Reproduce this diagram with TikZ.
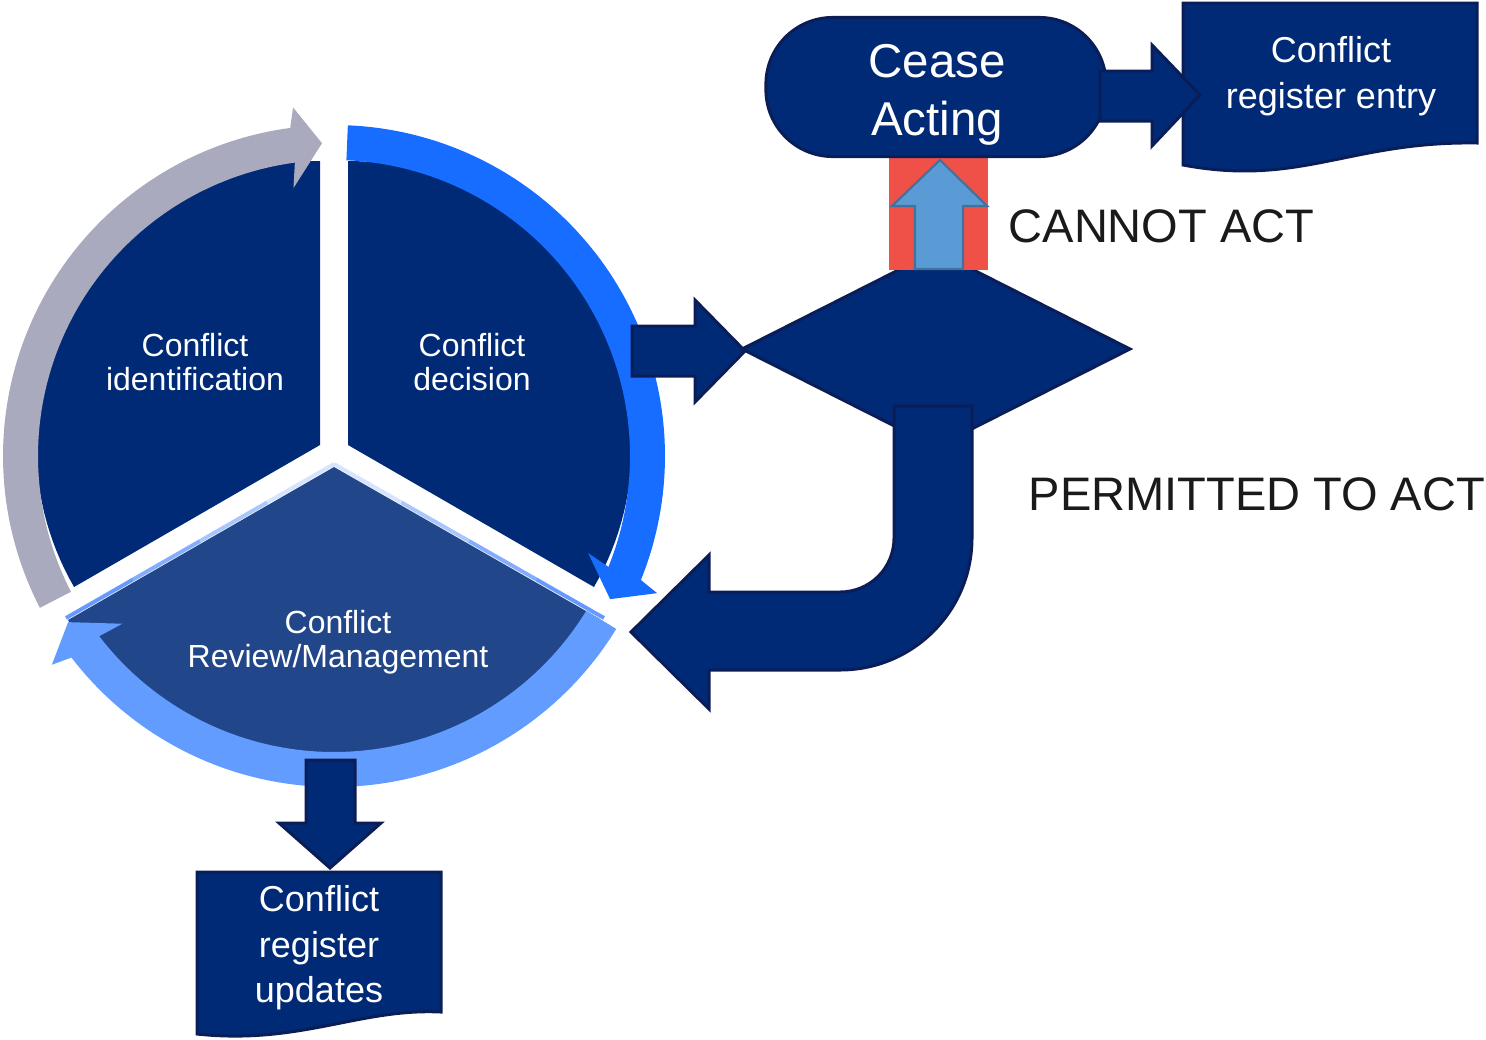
\documentclass[tikz,border=0pt]{standalone}
\usepackage{fontspec}
\setmainfont{Liberation Sans}
\usetikzlibrary{calc}
\definecolor{navy}{HTML}{002A76}
\definecolor{navyline}{HTML}{0B1D57}
\definecolor{review}{HTML}{22468A}
\definecolor{greyarc}{HTML}{A9AABE}
\definecolor{bluearc}{HTML}{176DFF}
\definecolor{lightarc}{HTML}{629CFF}
\definecolor{redbox}{HTML}{EF5047}
\definecolor{uparrow}{HTML}{5B9BD5}
\definecolor{uparrowline}{HTML}{41719C}
\definecolor{ink}{HTML}{1A1A1A}
\definecolor{edgeA}{HTML}{D6E4FF}
\definecolor{edgeB}{HTML}{A9C6FF}
\definecolor{edgeC}{HTML}{84ADFF}
\definecolor{edgeD}{HTML}{6799FF}
\begin{document}
\begin{tikzpicture}[x=0.01cm,y=-0.01cm,
  blk/.style={fill=navy,draw=navyline,line width=0.85pt,line join=miter},
  wlabel/.style={text=white,align=center,inner sep=0pt},
  klabel/.style={text=ink,inner sep=0pt,anchor=west,font=\fontsize{13.37pt}{16pt}\selectfont},
  small/.style={font=\fontsize{9.1pt}{9.6pt}\selectfont},
  medium/.style={font=\fontsize{10.24pt}{13.1pt}\selectfont},
]
\useasboundingbox (0,0) rectangle (1486,1039);

% slices
\fill[navy] (320,445) -- plot[domain=90:210,samples=60] ({320+284*cos(\x)},{445-284*sin(\x)}) -- cycle;
\fill[navy] (348,445) -- plot[domain=-30:90,samples=60] ({348+284*cos(\x)},{445-284*sin(\x)}) -- cycle;
\fill[review] (334,467) -- (68,620) -- plot[domain=211.65:328.5,samples=60] ({334+312.5*cos(\x)},{456-312.5*sin(\x)}) -- cycle;
\foreach \a/\b/\c in {0/0.25/edgeA,0.25/0.5/edgeB,0.5/0.75/edgeC,0.75/1/edgeD}{
  \draw[\c,line width=1.1pt] ($(334,464)!\a!(66,618)$) -- ($(334,464)!\b!(66,618)$);
  \draw[\c,line width=1.1pt] ($(334,464)!\a!(604,618)$) -- ($(334,464)!\b!(604,618)$);
}

% ring arrows
\fill[greyarc] plot[domain=207.3:97.6,samples=80] ({334+331*cos(\x)},{456-331*sin(\x)})
  -- ({334+351*cos(96.7)},{456-351*sin(96.7)})
  -- ({334+313*cos(92.2)},{456-313*sin(92.2)})
  -- ({334+271*cos(98.6)},{456-271*sin(98.6)})
  -- plot[domain=97.6:207.3,samples=80] ({334+296*cos(\x)},{456-296*sin(\x)}) -- cycle;
\fill[bluearc] plot[domain=87.6:-22,samples=80] ({334+331*cos(\x)},{456-331*sin(\x)})
  -- ({334+351*cos(-23)},{456-351*sin(-23)})
  -- ({334+311*cos(-27.4)},{456-311*sin(-27.4)})
  -- ({334+272*cos(-20.9)},{456-272*sin(-20.9)})
  -- plot[domain=-22:87.6,samples=80] ({334+296*cos(\x)},{456-296*sin(\x)}) -- cycle;
\fill[lightarc] plot[domain=328.5:217.5,samples=80] ({334+331*cos(\x)},{456-331*sin(\x)})
  -- ({334+351*cos(216.5)},{456-351*sin(216.5)})
  -- ({334+313.5*cos(212)},{456-313.5*sin(212)})
  -- ({334+270*cos(218.4)},{456-270*sin(218.4)})
  -- plot[domain=217.5:328.5,samples=80] ({334+296*cos(\x)},{456-296*sin(\x)}) -- cycle;

\node[wlabel,small] (ident) at (195,362) {Conflict\\identification};
\node[wlabel,small] (decision) at (472,362) {Conflict\\decision};
\node[wlabel,small] (reviewlbl) at (338,642) {Conflict\\Review/Management};

% decision diamond and arrows
\draw[blk] (742,349) -- (936,251) -- (1130,349) -- (936,447) -- cycle;
\draw[blk] (632,326) -- (695,326) -- (695,300) -- (745,351) -- (695,402) -- (695,376) -- (632,376) -- cycle;
\draw[blk] (894,406) -- (972,406) -- (972,538) .. controls (972,611) and (913,670) .. (840,670)
  -- (709,670) -- (709,709) -- (631,632) -- (709,555) -- (709,592) -- (840,592)
  .. controls (870,592) and (894,568) .. (894,538) -- cycle;

% cannot act
\fill[redbox] (889,158) rectangle (988,270);
\draw[fill=uparrow,draw=uparrowline,line width=0.6pt,line join=miter] (915,269) -- (963,269) -- (963,206) -- (987,206) -- (940,160) -- (892,206) -- (915,206) -- cycle;

\node[blk,rounded corners=19pt,minimum width=3.4cm,minimum height=1.39cm,inner sep=0pt] (cease) at (936,87) {};
\node[wlabel,font=\fontsize{13.5pt}{16.5pt}\selectfont] (ceasetext) at (937,95) {Cease\\Acting};

\draw[blk] (1183,3) -- (1477,3) -- (1477,143) .. controls (1350,141) and (1300,187) .. (1183,165) -- cycle;
\node[wlabel,medium] (entry) at (1331,76) {Conflict\\register entry};
\draw[blk] (1100,71) -- (1152,71) -- (1152,45) -- (1200,95) -- (1152,146) -- (1152,121) -- (1100,121) -- cycle;

\node[klabel] (cannot) at (1008,226) {CANNOT ACT};
\node[klabel] (permitted) at (1028,494) {PERMITTED TO ACT};

% register updates
\draw[blk] (306,760) -- (355,760) -- (355,823) -- (381,823) -- (330,868) -- (279,823) -- (306,823) -- cycle;
\draw[blk] (197,872) -- (441,872) -- (441,1012) .. controls (360,1008) and (300,1045) .. (197,1034) -- cycle;
\node[wlabel,font=\fontsize{10.24pt}{12.95pt}\selectfont] (updates) at (319,948) {Conflict\\register\\updates};
\end{tikzpicture}
\end{document}
